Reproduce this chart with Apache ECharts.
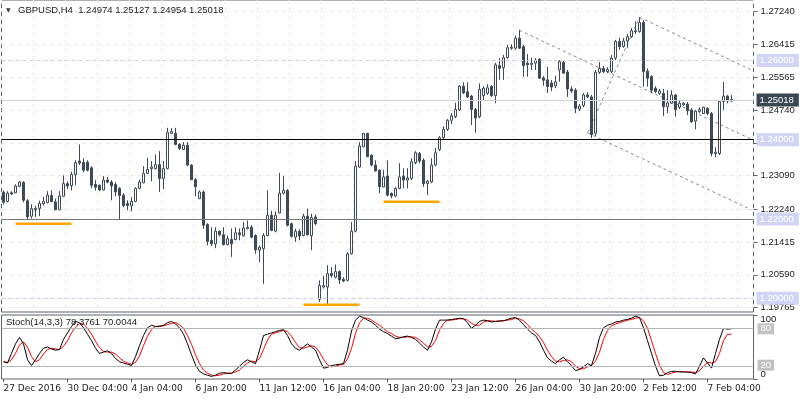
<!DOCTYPE html>
<html><head><meta charset="utf-8">
<script src="https://cdn.jsdelivr.net/npm/echarts@6.0.0/dist/echarts.min.js"></script>
<style>html,body{margin:0;padding:0;background:#fff}#c{width:800px;height:400px}</style>
</head><body><div id="c"></div>
<script>
const timeLabels = ['27 Dec 2016','30 Dec 04:00','4 Jan 04:00','6 Jan 20:00','11 Jan 12:00','16 Jan 04:00','18 Jan 20:00','23 Jan 12:00','26 Jan 04:00','30 Jan 20:00','2 Feb 12:00','7 Feb 04:00'];
const opens = [1.2267,1.2244,1.2266,1.2266,1.2282,1.2292,1.2246,1.2207,1.2226,1.2226,1.2238,1.2241,1.2259,1.2243,1.2223,1.2257,1.2289,1.2284,1.2312,1.2346,
1.2343,1.2343,1.2329,1.2287,1.2285,1.2273,1.2298,1.2293,1.2287,1.2277,1.2260,1.2239,1.2233,1.2244,1.2277,1.2291,1.2315,1.2327,1.2327,1.2337,
1.2302,1.2327,1.2416,1.2416,1.2388,1.2375,1.2386,1.2336,1.2299,1.2251,1.2268,1.2186,1.2146,1.2137,1.2169,1.2160,1.2135,1.2148,1.2148,1.2165,
1.2157,1.2175,1.2179,1.2158,1.2121,1.2125,1.2158,1.2209,1.2169,1.2215,1.2265,1.2272,1.2188,1.2154,1.2169,1.2158,1.2207,1.2158,1.2205,1.1997,
1.2028,1.2028,1.2062,1.2053,1.2067,1.2047,1.2045,1.2112,1.2169,1.2331,1.2382,1.2416,1.2361,1.2336,1.2323,1.2281,1.2308,1.2264,1.2258,1.2277,
1.2308,1.2298,1.2302,1.2342,1.2365,1.2348,1.2289,1.2293,1.2336,1.2375,1.2405,1.2426,1.2449,1.2458,1.2475,1.2535,1.2521,1.2510,1.2476,1.2458,
1.2511,1.2517,1.2534,1.2511,1.2587,1.2582,1.2607,1.2633,1.2631,1.2656,1.2635,1.2593,1.2590,1.2593,1.2603,1.2556,1.2551,1.2543,1.2536,1.2576,
1.2595,1.2571,1.2528,1.2525,1.2477,1.2486,1.2513,1.2508,1.2416,1.2570,1.2580,1.2572,1.2572,1.2606,1.2648,1.2635,1.2649,1.2660,1.2673,1.2673,
1.2696,1.2573,1.2559,1.2530,1.2517,1.2517,1.2483,1.2492,1.2513,1.2482,1.2488,1.2490,1.2475,1.2447,1.2471,1.2466,1.2479,1.2466,1.2365,1.2365,
1.2496,1.2510,1.24974];
const highs = [1.2272,1.2270,1.2270,1.2287,1.2296,1.2295,1.2250,1.2237,1.2233,1.2246,1.2256,1.2270,1.2272,1.2251,1.2270,1.2310,1.2295,1.2319,1.2348,1.2388,
1.2353,1.2348,1.2333,1.2298,1.2287,1.2308,1.2306,1.2298,1.2293,1.2280,1.2265,1.2247,1.2255,1.2280,1.2299,1.2333,1.2354,1.2346,1.2363,1.2371,
1.2346,1.2430,1.2429,1.2430,1.2391,1.2394,1.2394,1.2338,1.2303,1.2272,1.2272,1.2189,1.2179,1.2179,1.2171,1.2179,1.2158,1.2176,1.2179,1.2176,
1.2192,1.2196,1.2184,1.2161,1.2133,1.2164,1.2272,1.2220,1.2219,1.2316,1.2308,1.2275,1.2191,1.2175,1.2174,1.2213,1.2226,1.2213,1.2211,1.2045,
1.2056,1.2083,1.2078,1.2085,1.2070,1.2053,1.2116,1.2192,1.2346,1.2394,1.2417,1.2417,1.2363,1.2348,1.2325,1.2323,1.2348,1.2267,1.2280,1.2341,
1.2328,1.2328,1.2353,1.2371,1.2369,1.2353,1.2298,1.2353,1.2379,1.2409,1.2434,1.2452,1.2467,1.2493,1.2538,1.2545,1.2545,1.2513,1.2480,1.2542,
1.2535,1.2540,1.2538,1.2594,1.2606,1.2614,1.2639,1.2641,1.2663,1.2677,1.2639,1.2616,1.2607,1.2606,1.2606,1.2561,1.2584,1.2551,1.2561,1.2601,
1.2599,1.2576,1.2535,1.2530,1.2490,1.2518,1.2520,1.2513,1.2576,1.2596,1.2586,1.2583,1.2614,1.2652,1.2657,1.2657,1.2667,1.2682,1.2698,1.2709,
1.2702,1.2580,1.2563,1.2535,1.2528,1.2528,1.2525,1.2525,1.2515,1.2500,1.2495,1.2495,1.2480,1.2475,1.2482,1.2483,1.2482,1.2470,1.2381,1.2500,
1.2546,1.2513,1.25127];
const lows = [1.2237,1.2242,1.2260,1.2265,1.2280,1.2242,1.2199,1.2201,1.2205,1.2207,1.2234,1.2239,1.2242,1.2222,1.2222,1.2255,1.2275,1.2272,1.2285,1.2336,
1.2318,1.2320,1.2277,1.2272,1.2270,1.2272,1.2290,1.2247,1.2257,1.2198,1.2229,1.2222,1.2219,1.2242,1.2275,1.2290,1.2313,1.2295,1.2325,1.2268,
1.2275,1.2325,1.2414,1.2386,1.2374,1.2374,1.2333,1.2298,1.2257,1.2250,1.2175,1.2133,1.2131,1.2126,1.2156,1.2133,1.2133,1.2104,1.2146,1.2146,
1.2156,1.2174,1.2151,1.2112,1.2091,1.2036,1.2156,1.2169,1.2166,1.2214,1.2262,1.2181,1.2153,1.2142,1.2146,1.2156,1.2158,1.2121,1.2184,1.1990,
1.2024,1.1984,1.2052,1.2050,1.2036,1.2040,1.2042,1.2110,1.2166,1.2329,1.2381,1.2356,1.2333,1.2320,1.2265,1.2280,1.2257,1.2252,1.2255,1.2275,
1.2277,1.2277,1.2298,1.2338,1.2341,1.2281,1.2260,1.2290,1.2333,1.2371,1.2401,1.2422,1.2439,1.2454,1.2472,1.2515,1.2505,1.2437,1.2418,1.2454,
1.2500,1.2513,1.2508,1.2492,1.2551,1.2551,1.2604,1.2627,1.2627,1.2629,1.2559,1.2559,1.2576,1.2576,1.2553,1.2536,1.2518,1.2523,1.2530,1.2546,
1.2566,1.2508,1.2518,1.2467,1.2472,1.2482,1.2505,1.2404,1.2409,1.2566,1.2568,1.2568,1.2568,1.2601,1.2627,1.2632,1.2632,1.2657,1.2667,1.2670,
1.2534,1.2534,1.2517,1.2518,1.2513,1.2460,1.2467,1.2490,1.2458,1.2477,1.2485,1.2462,1.2443,1.2426,1.2467,1.2465,1.2462,1.2358,1.2356,1.2361,
1.2475,1.2492,1.24954];
const closes = [1.2242,1.2265,1.2263,1.2283,1.2293,1.2247,1.2205,1.2226,1.2223,1.2239,1.2244,1.2260,1.2244,1.2223,1.2258,1.2289,1.2283,1.2312,1.2342,1.2341,
1.2323,1.2323,1.2285,1.2280,1.2273,1.2298,1.2293,1.2283,1.2268,1.2259,1.2234,1.2234,1.2244,1.2277,1.2293,1.2315,1.2325,1.2331,1.2337,1.2302,
1.2327,1.2418,1.2420,1.2388,1.2378,1.2386,1.2336,1.2299,1.2281,1.2268,1.2184,1.2143,1.2137,1.2169,1.2160,1.2135,1.2150,1.2137,1.2165,1.2160,
1.2177,1.2179,1.2154,1.2122,1.2129,1.2158,1.2209,1.2171,1.2209,1.2265,1.2272,1.2184,1.2156,1.2169,1.2157,1.2207,1.2160,1.2203,1.2188,1.2032,
1.2032,1.2062,1.2057,1.2067,1.2046,1.2043,1.2112,1.2169,1.2333,1.2384,1.2416,1.2357,1.2336,1.2321,1.2281,1.2306,1.2260,1.2258,1.2277,1.2306,
1.2298,1.2303,1.2344,1.2367,1.2346,1.2289,1.2295,1.2336,1.2367,1.2405,1.2426,1.2449,1.2460,1.2476,1.2535,1.2518,1.2508,1.2476,1.2455,1.2527,
1.2530,1.2531,1.2511,1.2589,1.2580,1.2607,1.2632,1.2631,1.2656,1.2631,1.2587,1.2589,1.2593,1.2601,1.2555,1.2550,1.2534,1.2533,1.2546,1.2597,
1.2568,1.2528,1.2523,1.2479,1.2485,1.2513,1.2508,1.2413,1.2570,1.2580,1.2572,1.2577,1.2606,1.2648,1.2635,1.2649,1.2660,1.2675,1.2675,1.2696,
1.2572,1.2555,1.2525,1.2521,1.2523,1.2483,1.2493,1.2513,1.2476,1.2492,1.2492,1.2473,1.2445,1.2472,1.2476,1.2482,1.2466,1.2365,1.2368,1.2496,
1.2510,1.2498,1.25018];
const stochK = [27,25,40,55,65,55,30,21,30,40,48,50,47,45,46,62,72,82,90,88,
80,70,60,48,40,42,44,40,32,27,25,23,21,35,52,68,80,84,82,82,
84,88,90,86,80,70,55,38,22,12,8,6,4,6,9,10,9,9,14,20,
26,30,27,24,45,68,70,72,74,76,77,68,55,48,45,50,55,50,45,30,
17,18,21,22,23,24,45,75,92,98,96,92,89,84,78,74,71,67,63,64,
66,67,65,62,56,50,45,58,78,92,92,92,93,94,95,94,88,79,84,90,
92,91,89,90,91,91,93,95,96,92,85,78,72,68,58,45,33,28,24,30,
34,27,21,13,15,19,24,21,40,65,80,84,86,89,90,92,93,95,98,96,
80,60,40,20,5,6,10,12,12,11,11,11,10,8,20,33,25,17,40,62,
79,78,78.3761];
const stochD = [27,26,30,40,53,58,50,35,27,30,39,46,48,47,46,51,60,72,81,87,
86,79,70,59,49,43,42,42,39,33,28,25,23,26,36,52,67,77,82,83,
83,85,87,88,85,79,68,54,38,24,14,9,6,5,6,8,9,9,11,14,
20,25,28,27,32,46,61,70,72,74,76,74,67,57,49,48,50,52,50,42,
31,22,19,20,22,23,31,48,71,88,95,95,92,88,84,79,74,71,67,65,
65,66,66,65,61,56,50,51,60,76,87,92,92,93,94,94,92,87,84,84,
89,91,91,90,90,91,92,93,95,94,91,85,78,73,66,57,45,35,28,27,
29,30,27,20,16,16,19,21,28,42,62,76,83,86,88,90,92,93,95,96,
91,79,60,40,22,10,7,9,11,12,11,11,11,10,13,20,26,25,27,40,
60,70,70.0044];
const priceTicks = [1.19765,1.20590,1.21415,1.22240,1.23090,1.23915,1.24740,1.25565,1.26415,1.27240];
const roundLevels = [1.26,1.24,1.22,1.20];
const resistanceLines = [1.24020,1.23940];
const supportLines = [1.22022,1.21945];
const orangeSegments = [[3,17,1.2188],[75,89,1.1983],[95,109,1.2243]];
const channelLines = [[129,1.2676,187,1.2401],[159,1.2709,187,1.2576],[146,1.2417,187,1.2223],[146,1.2417,159,1.2709]];
const stochLevels = [20,80];
const stochBounds = [0,100];
const SLOTS = 188;

const FONT = 'DejaVu Sans';
const FONT2 = 'Liberation Sans';
const cats = [];
for (let i = 0; i < SLOTS; i++) cats.push('b' + i);
const labelFor = (v, idx) => (idx % 16 === 0 && timeLabels[idx / 16]) ? timeLabels[idx / 16] : '';
const candleData = opens.map((o, i) => [o, closes[i], lows[i], highs[i]]);
const last = opens.length - 1;
const DARK = '#3f4a59';

const markData = [];
roundLevels.forEach(v => markData.push({
  yAxis: v, lineStyle: {color: '#cbcbf3', type: [4, 3], width: 1},
  label: {show: true, position: 'end', distance: 3, formatter: () => v.toFixed(5), color: '#fff',
    backgroundColor: '#d3d3f5', padding: [2, 5, 1, 3], fontSize: 9.5, fontFamily: FONT2}
}));
markData.push({
  yAxis: closes[last], lineStyle: {color: '#d2d2d2', type: 'solid', width: 1},
  label: {show: true, position: 'end', distance: 3, formatter: () => closes[last].toFixed(5), color: '#fff',
    backgroundColor: '#3b4653', padding: [2, 5, 1, 3], fontSize: 9.5, fontFamily: FONT2}
});
resistanceLines.forEach(v => markData.push({yAxis: v, lineStyle: {color: '#000', type: 'solid', width: 1}, label: {show: false}}));
supportLines.forEach(v => markData.push({yAxis: v, lineStyle: {color: '#777', type: 'solid', width: 1}, label: {show: false}}));

const stochMarks = [];
stochMarks.push({
  yAxis: stochBounds[0], lineStyle: {color: 'rgba(255,255,255,0)', width: 0.1},
  label: {show: true, position: 'end', distance: 7, offset: [0, -4.5], formatter: () => String(stochBounds[0]),
    color: '#222', fontSize: 9.5, fontFamily: FONT2}
});
stochMarks.push({
  yAxis: stochBounds[1], lineStyle: {color: 'rgba(255,255,255,0)', width: 0.1},
  label: {show: true, position: 'end', distance: 7, offset: [0, 4.5], formatter: () => String(stochBounds[1]),
    color: '#222', fontSize: 9.5, fontFamily: FONT2}
});
stochLevels.forEach(v => stochMarks.push({
  yAxis: v, lineStyle: {color: '#b5b5b5', type: 'solid', width: 1},
  label: {show: true, position: 'end', distance: 4, offset: [0, v > 50 ? 1 : -1], formatter: () => String(v), color: '#fff',
    backgroundColor: '#c2c2c2', padding: [1, 3, 0, 3], fontSize: 9.5, fontFamily: FONT2}
}));

const series = [{
  type: 'candlestick', xAxisIndex: 0, yAxisIndex: 0, data: candleData, barWidth: 2,
  itemStyle: {color: '#ffffff', color0: DARK, borderColor: DARK, borderColor0: DARK, borderWidth: 1},
  markLine: {silent: true, symbol: 'none', animation: false, data: markData},
  z: 3
}];
orangeSegments.forEach(s => series.push({
  type: 'line', xAxisIndex: 0, yAxisIndex: 0, data: [[s[0], s[2]], [s[1], s[2]]],
  symbol: 'none', lineStyle: {color: '#ffa500', width: 2.5}, silent: true, z: 4
}));
channelLines.forEach(c => series.push({
  type: 'line', xAxisIndex: 0, yAxisIndex: 0, data: [[c[0], c[1]], [c[2], c[3]]],
  symbol: 'none', lineStyle: {color: '#8a8a8a', width: 1, type: [3, 3]}, silent: true, z: 2
}));
series.push({
  type: 'line', xAxisIndex: 1, yAxisIndex: 1, data: stochD, symbol: 'none',
  lineStyle: {color: '#ff0000', width: 1}, silent: true, z: 3,
  markLine: {silent: true, symbol: 'none', animation: false, data: stochMarks}
});
series.push({
  type: 'line', xAxisIndex: 1, yAxisIndex: 1, data: stochK, symbol: 'none',
  lineStyle: {color: '#000000', width: 1}, silent: true, z: 4
});

const chart = echarts.init(document.getElementById('c'), null, {renderer: 'canvas'});
chart.setOption({
  animation: false,
  backgroundColor: '#ffffff',
  grid: [
    {left: 1.5, top: 0, width: 752, height: 312, show: true, borderColor: '#5b636c', borderWidth: 1, backgroundColor: 'transparent'},
    {left: 1.5, top: 315, width: 752, height: 64, show: true, borderColor: '#5b636c', borderWidth: 1, backgroundColor: 'transparent'}
  ],
  xAxis: [
    {type: 'category', gridIndex: 0, data: cats, boundaryGap: true,
      axisLine: {show: false}, axisTick: {show: false}, axisLabel: {show: false},
      splitLine: {show: true, interval: 7, lineStyle: {color: '#e9e9e9', type: [4, 4]}}},
    {type: 'category', gridIndex: 1, data: cats, boundaryGap: true,
      axisLine: {show: false},
      axisTick: {show: true, interval: 15, alignWithLabel: true, length: 3, lineStyle: {color: '#5b636c'}},
      axisLabel: {show: true, interval: 15, formatter: labelFor, align: 'left', margin: 5,
        color: '#222', fontSize: 9, fontFamily: FONT},
      splitLine: {show: false}}
  ],
  yAxis: [
    {type: 'value', gridIndex: 0, position: 'right', min: 1.1965, max: 1.27526,
      axisLine: {show: false},
      axisTick: {show: true, customValues: priceTicks, length: 4, lineStyle: {color: '#5b636c'}},
      axisLabel: {show: true, customValues: priceTicks, formatter: v => v.toFixed(5), margin: 7,
        color: '#222', fontSize: 9.5, fontFamily: FONT2},
      splitLine: {show: true, lineStyle: {color: '#e9e9e9', type: [4, 4]}}},
    {type: 'value', gridIndex: 1, position: 'right', min: 0, max: 100,
      axisLine: {show: false},
      axisTick: {show: true, customValues: stochBounds, length: 4, lineStyle: {color: '#5b636c'}},
      axisLabel: {show: false},
      splitLine: {show: false}}
  ],
  graphic: [
    {type: 'text', left: 6, top: 7, z: 100, style: {text: '\u25BC', font: '6px "DejaVu Sans"', fill: '#3a3a3a'}},
    {type: 'text', left: 18, top: 5, z: 100, style: {
      text: 'GBPUSD,H4  ' + [opens[last], highs[last], lows[last], closes[last]].map(v => v.toFixed(5)).join(' '),
      font: '9.5px "Liberation Sans"', fill: '#222'}},
    {type: 'text', left: 6, top: 317, z: 100, style: {
      text: 'Stoch(14,3,3) ' + stochK[last].toFixed(4) + ' ' + stochD[last].toFixed(4),
      font: '9.5px "Liberation Sans"', fill: '#222'}}
  ],
  series: series
});
</script></body></html>
